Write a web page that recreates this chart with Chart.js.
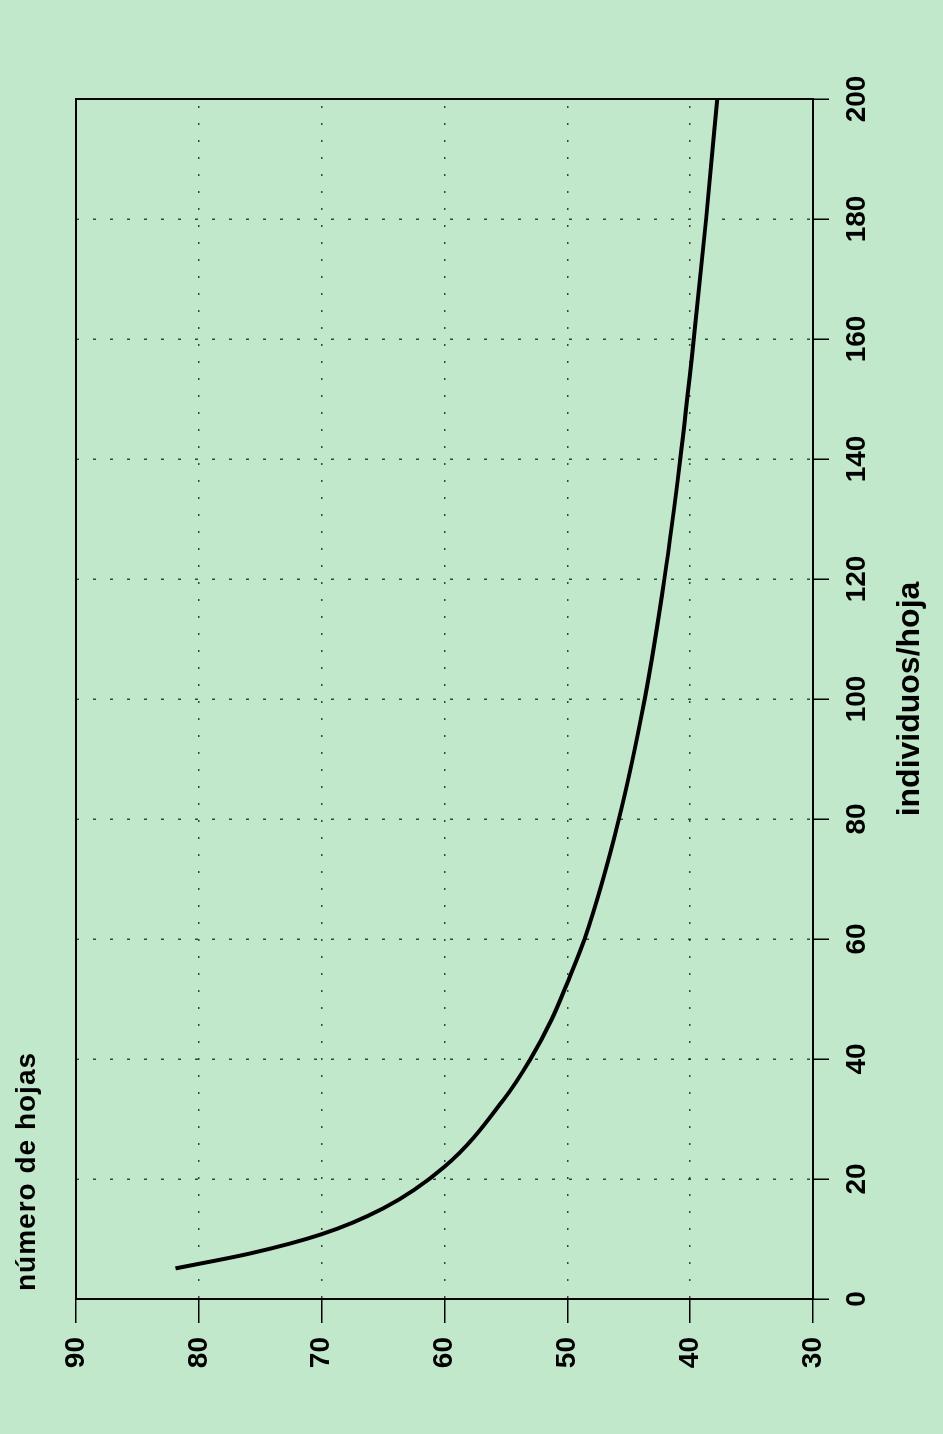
<!DOCTYPE html>
<html>
<head>
<meta charset="utf-8">
<script src="https://cdn.jsdelivr.net/npm/chart.js@4.4.1/dist/chart.umd.min.js"></script>
<style>
  html, body { margin:0; padding:0; background:#c2e8cb; width:943px; height:1434px; overflow:hidden; }
  #rot { position:absolute; left:0; top:0; width:1434px; height:943px;
         transform-origin: 0 0; transform: translate(0px,1434px) rotate(-90deg); }
  #wrap { position:absolute; left:0; top:0; width:1434px; height:943px; }
  #ttl { position:absolute; left:143px; top:12px; font:bold 28px Arial, Helvetica, sans-serif;
         letter-spacing:1px; color:#000; line-height:28px; white-space:nowrap; }
</style>
</head>
<body>
<div id="rot">
  <div id="wrap"><canvas id="c" width="1434" height="943"></canvas></div>
  <div id="ttl">número de hojas</div>
</div>
<script>
// Data (individuos/hoja -> número de hojas)
const individuos = [5.1, 7.6, 10.8, 15.1, 22.05, 33.2, 40, 46.5, 52.7, 60, 80, 100, 120, 140, 160, 180, 200];
const hojas      = [81.9, 75.8, 70, 65, 60, 55.2, 53, 51.3, 50, 48.6, 45.8, 43.7, 42.1, 40.8, 39.7, 38.7, 37.8];
const xTicks = [0, 20, 40, 60, 80, 100, 120, 140, 160, 180, 200];
const yTicks = [30, 40, 50, 60, 70, 80, 90];
const xTitle = 'individuos/hoja';

const points = individuos.map((x, i) => ({x: x, y: hojas[i]}));
const FONT = 'Arial, Helvetica, sans-serif';
const gridCol = 'rgba(25,45,35,0.85)';

new Chart(document.getElementById('c'), {
  type: 'line',
  data: { datasets: [{ data: points, borderColor: '#000', borderWidth: 4, pointRadius: 0,
                       cubicInterpolationMode: 'monotone', fill: false }] },
  options: {
    responsive: false, animation: false,
    layout: { padding: { left: 0, right: 99, top: 76, bottom: 0 } },
    plugins: { legend: { display: false }, tooltip: { enabled: false } },
    scales: {
      x: {
        type: 'linear', position: 'bottom', min: 0, max: 200,
        afterBuildTicks: s => { s.ticks = xTicks.map(v => ({value: v})); },
        afterFit: s => { s.height = 130; },
        ticks: { color: '#000', font: { family: FONT, size: 28, weight: 'bold' }, padding: 11, maxRotation: 0 },
        grid: { color: gridCol, lineWidth: 1.5, tickLength: 16, tickColor: '#000', tickWidth: 1.5, tickBorderDash: [] },
        border: { display: true, color: '#000', width: 2, dash: [3, 14] },
        title: { display: true, text: xTitle, color: '#000', font: { family: FONT, size: 32, weight: 'bold' },
                 padding: { top: 0, bottom: 14 } }
      },
      y: {
        type: 'linear', position: 'left', min: 30, max: 90,
        afterBuildTicks: s => { s.ticks = yTicks.map(v => ({value: v})); },
        afterFit: s => { s.width = 135; },
        ticks: { color: '#000', font: { family: FONT, size: 28, weight: 'bold' }, padding: 14 },
        grid: { color: gridCol, lineWidth: 1.5, tickLength: 24, tickColor: '#000', tickWidth: 1.5, tickBorderDash: [] },
        border: { display: true, color: '#000', width: 2, dash: [2, 15] }
      },
      x2: {
        type: 'linear', position: 'top', min: 0, max: 200,
        afterFit: s => { s.height = 0; },
        ticks: { display: false }, grid: { display: false, drawTicks: false },
        border: { display: true, color: '#000', width: 2 }
      },
      y2: {
        type: 'linear', position: 'right', min: 30, max: 90,
        afterFit: s => { s.width = 0; },
        ticks: { display: false }, grid: { display: false, drawTicks: false },
        border: { display: true, color: '#000', width: 2 }
      }
    }
  }
});
</script>
</body>
</html>
